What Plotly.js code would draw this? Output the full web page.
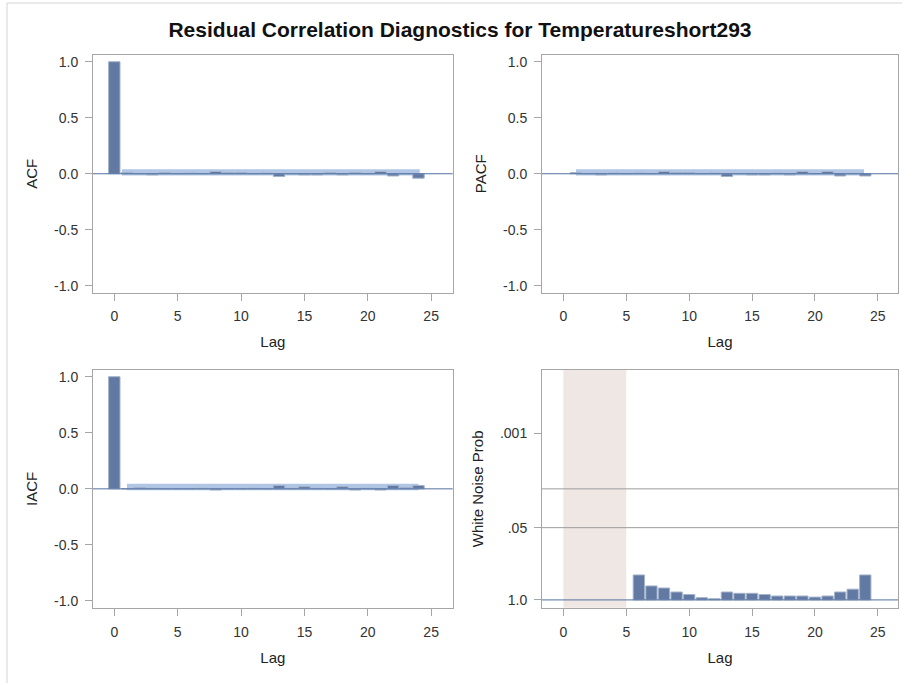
<!DOCTYPE html>
<html>
<head>
<meta charset="utf-8">
<script src="https://cdn.plot.ly/plotly-3.0.1.min.js"></script>
<style>
  html, body { margin: 0; padding: 0; background: #fff; }
  #chart { width: 902px; height: 683px; }
</style>
</head>
<body>
<div id="chart"></div>
<script>
// Residual autocorrelation diagnostics (lags 0-24)
const lags = [0, 1, 2, 3, 4, 5, 6, 7, 8, 9, 10, 11, 12, 13, 14, 15, 16, 17, 18, 19, 20, 21, 22, 23, 24];
const acf = [1.0, 0.01, 0.0, -0.01, 0.01, 0.0, 0.005, 0.0, 0.02, 0.01, 0.01, 0.0, 0.005, -0.025, 0.0, -0.01, -0.01, 0.01, -0.01, 0.01, 0.0, 0.02, -0.02, 0.0, -0.04];
const pacfLags = [1, 2, 3, 4, 5, 6, 7, 8, 9, 10, 11, 12, 13, 14, 15, 16, 17, 18, 19, 20, 21, 22, 23, 24];
const pacf = [0.01, 0.0, -0.01, 0.005, 0.0, 0.005, 0.0, 0.02, 0.01, 0.01, 0.0, 0.005, -0.025, 0.0, -0.01, -0.01, 0.005, -0.01, 0.02, 0.0, 0.02, -0.02, 0.0, -0.02];
const iacf = [1.0, 0.0, 0.01, 0.005, 0.0, 0.0, 0.0, 0.005, -0.01, 0.0, 0.0, 0.005, 0.0, 0.03, 0.005, 0.02, 0.005, 0.0, 0.02, -0.01, 0.005, -0.01, 0.03, 0.01, 0.03];

// Two-standard-error bands: lag extent and lower/upper limits
const acfBandLags = [0.6, 24.1];
const acfBandLimits = [-0.015, 0.04];
const pacfBandLags = [1.0, 23.9];
const pacfBandLimits = [-0.015, 0.04];
const iacfBandLags = [1.0, 24.0];
const iacfBandLimits = [-0.012, 0.045];

// Ljung-Box white noise test probabilities
const wnLags = [6, 7, 8, 9, 10, 11, 12, 13, 14, 15, 16, 17, 18, 19, 20, 21, 22, 23, 24];
const wnProb = [0.355, 0.56, 0.61, 0.72, 0.80, 0.91, 0.95, 0.72, 0.76, 0.76, 0.80, 0.85, 0.85, 0.85, 0.89, 0.85, 0.72, 0.64, 0.355];
const wnUndefinedLags = [0, 5];
const wnRefProbs = [0.05, 0.01];
const wnTickProbs = [1.0, 0.05, 0.001];
const wnTickText = ['1.0', '.05', '.001'];

const corrTicks = [-1.0, -0.5, 0.0, 0.5, 1.0];
const corrTickText = ['-1.0', '-0.5', '0.0', '0.5', '1.0'];
const lagTicks = [0, 5, 10, 15, 20, 25];

const BAR = '#6279a3';
const BAR_EDGE = '#a3b3ca';
const BAND = '#b1c6e4';
const ZERO = '#5270a0';
const FRAME = '#a6a6a6';
const FONT = 'Liberation Sans, Arial, sans-serif';

const nlog = p => -Math.log10(p);

// band drawn as a single wide bar so it sits in the bar layer beneath the lag bars
function bandTrace(xr, yr, xa, ya) {
  return {
    type: 'bar', xaxis: xa, yaxis: ya,
    x: [(xr[0] + xr[1]) / 2], width: [xr[1] - xr[0]],
    base: [yr[0]], y: [yr[1] - yr[0]],
    marker: {color: BAND, line: {width: 0}},
    hoverinfo: 'skip', showlegend: false
  };
}
function barTrace(x, y, xa, ya) {
  return {
    type: 'bar', x: x, y: y, xaxis: xa, yaxis: ya, width: 0.9,
    marker: {color: BAR, line: {color: BAR_EDGE, width: 1}},
    hoverinfo: 'x+y', showlegend: false
  };
}

const traces = [
  bandTrace(acfBandLags, acfBandLimits, 'x', 'y'),
  barTrace(lags, acf, 'x', 'y'),
  bandTrace(pacfBandLags, pacfBandLimits, 'x2', 'y2'),
  barTrace(pacfLags, pacf, 'x2', 'y2'),
  bandTrace(iacfBandLags, iacfBandLimits, 'x3', 'y3'),
  barTrace(lags, iacf, 'x3', 'y3'),
  barTrace(wnLags, wnProb.map(nlog), 'x4', 'y4')
];

const W = 902, H = 683;
const colL = [93 / W, 452.7 / W];
const colR = [542 / W, 898 / W];
const rowT = [1 - 292.5 / H, 1 - 55 / H];
const rowB = [1 - 607.7 / H, 1 - 370 / H];

const tickFont = {family: FONT, size: 14, color: '#333'};
const titleFont = {family: FONT, size: 15, color: '#222'};

function xAxis(domain, anchor, range) {
  return {
    domain: domain, anchor: anchor, range: range,
    tickvals: lagTicks, ticks: 'outside', ticklen: 7, tickcolor: FRAME,
    ticklabelstandoff: 4,
    showline: true, mirror: true, linecolor: FRAME, linewidth: 1,
    showgrid: false, zeroline: false,
    tickfont: tickFont,
    title: {text: 'Lag', font: titleFont, standoff: 13}
  };
}
function yAxis(domain, anchor, range, vals, text, label) {
  return {
    domain: domain, anchor: anchor, range: range,
    tickvals: vals, ticktext: text, ticks: 'outside', ticklen: 7, tickcolor: FRAME,
    ticklabelstandoff: 4,
    showline: true, mirror: true, linecolor: FRAME, linewidth: 1,
    showgrid: false, zeroline: false,
    tickfont: tickFont,
    title: {text: label, font: titleFont, standoff: 12}
  };
}

const shapes = [
  // outer border of the graphic
  {type: 'line', xref: 'paper', yref: 'paper', x0: 7 / W, x1: 1, y0: 1 - 3 / H, y1: 1 - 3 / H, line: {color: '#d4d4d4', width: 1}},
  {type: 'line', xref: 'paper', yref: 'paper', x0: 7 / W, x1: 7 / W, y0: 0, y1: 1 - 3 / H, line: {color: '#d4d4d4', width: 1}},
  // zero reference lines
  {type: 'line', xref: 'x domain', yref: 'y', x0: 0, x1: 1, y0: 0, y1: 0, line: {color: ZERO, width: 1}, layer: 'above'},
  {type: 'line', xref: 'x2 domain', yref: 'y2', x0: 0, x1: 1, y0: 0, y1: 0, line: {color: ZERO, width: 1}, layer: 'above'},
  {type: 'line', xref: 'x3 domain', yref: 'y3', x0: 0, x1: 1, y0: 0, y1: 0, line: {color: ZERO, width: 1}, layer: 'above'},
  // lags where the white noise test is undefined
  {type: 'rect', xref: 'x4', yref: 'y4 domain', x0: wnUndefinedLags[0], x1: wnUndefinedLags[1], y0: 0, y1: 1, fillcolor: '#efe7e4', line: {width: 0}, layer: 'below'},
  {type: 'line', xref: 'x4 domain', yref: 'y4', x0: 0, x1: 1, y0: nlog(1.0), y1: nlog(1.0), line: {color: ZERO, width: 1}, layer: 'above'}
];
wnRefProbs.forEach(p => shapes.push({
  type: 'line', xref: 'x4 domain', yref: 'y4', x0: 0, x1: 1, y0: nlog(p), y1: nlog(p),
  line: {color: '#9c9c9c', width: 1}, layer: 'below'
}));

const layout = {
  width: W, height: H,
  margin: {l: 0, r: 0, t: 0, b: 0, autoexpand: false},
  paper_bgcolor: '#fff', plot_bgcolor: 'rgba(0,0,0,0)',
  font: {family: FONT},
  barmode: 'overlay',
  title: {
    text: '<b>Residual Correlation Diagnostics for Temperatureshort293</b>',
    font: {family: FONT, size: 21, color: '#111'},
    x: 460 / W, xanchor: 'center', xref: 'paper',
    y: 1 - 30 / H, yanchor: 'middle', yref: 'paper'
  },
  xaxis: xAxis(colL, 'y', [-1.68, 26.7]),
  yaxis: yAxis(rowT, 'x', [-1.06, 1.06], corrTicks, corrTickText, 'ACF'),
  xaxis2: xAxis(colR, 'y2', [-1.7, 26.6]),
  yaxis2: yAxis(rowT, 'x2', [-1.06, 1.06], corrTicks, corrTickText, 'PACF'),
  xaxis3: xAxis(colL, 'y3', [-1.68, 26.7]),
  yaxis3: yAxis(rowB, 'x3', [-1.06, 1.06], corrTicks, corrTickText, 'IACF'),
  xaxis4: xAxis(colR, 'y4', [-1.7, 26.6]),
  yaxis4: yAxis(rowB, 'x4', [-0.14, 4.14], wnTickProbs.map(nlog), wnTickText, 'White Noise Prob'),
  shapes: shapes
};

Plotly.newPlot('chart', traces, layout, {displayModeBar: false, staticPlot: true});
</script>
</body>
</html>
